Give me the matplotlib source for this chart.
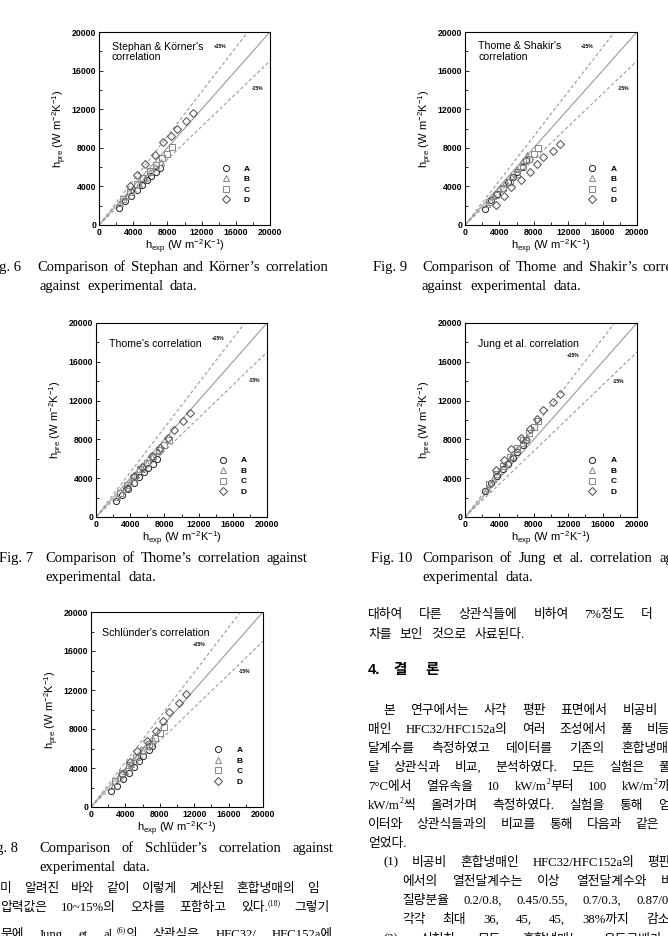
import re
import matplotlib
matplotlib.use('Agg')
import matplotlib.pyplot as plt
from matplotlib.ticker import MultipleLocator

W, H = 668, 936
plt.rcParams['font.family'] = 'Liberation Sans'
plt.rcParams['mathtext.default'] = 'regular'

#%% data
# experimental h (W m-2 K-1), mixtures A-D
exp_A = [2300, 3000, 3700, 4400, 5000, 5600, 6100, 6700, 7100]
exp_B = [2500, 3300, 4000, 4700, 5400, 6000, 6600, 7200]
exp_C = [2800, 3600, 4400, 5200, 6000, 6700, 7400, 8000, 8500]
exp_D = [3600, 4500, 5400, 6500, 7500, 8400, 9100, 10200, 11000]

# Fig. 6  Stephan & Korner
sk_A = [1800, 2500, 3000, 3600, 4100, 4700, 5100, 5500, 5900]
sk_B = [2300, 3000, 3700, 4300, 4900, 5500, 6000, 6500]
sk_C = [2700, 3400, 4200, 4900, 5600, 6200, 6900, 7400, 8100]
sk_D = [4000, 5200, 6300, 7300, 8600, 9200, 10000, 10800, 11600]

# Fig. 7  Thome
th_A = [1600, 2300, 2900, 3500, 4100, 4600, 5100, 5500, 6000]
th_B = [2100, 2900, 3600, 4300, 5000, 5600, 6200, 6800]
th_C = [2500, 3300, 4100, 4900, 5600, 6300, 6900, 7400, 7900]
th_D = [3000, 4200, 5200, 6300, 7100, 8100, 9000, 9900, 10700]

# Fig. 8  Schlunder
sl_A = [1600, 2200, 2900, 3500, 4100, 4700, 5200, 5800, 6300]
sl_B = [2200, 3000, 3700, 4400, 5100, 5700, 6300, 6900]
sl_C = [2700, 3500, 4300, 5100, 5800, 6500, 7100, 7600, 8200]
sl_D = [3400, 4600, 5700, 6800, 7800, 8800, 9700, 10700, 11600]

# Fig. 9  Thome & Shakir
ts_A = [1700, 2600, 3200, 3800, 4500, 5000, 5500, 6000, 6700]
ts_B = [2200, 3000, 3700, 4400, 5100, 5800, 6500, 7300]
ts_C = [2400, 3100, 3800, 4500, 5300, 6100, 6800, 7400, 8000]
ts_D = [2100, 3000, 3900, 4700, 5500, 6300, 7000, 7700, 8400]

# Fig. 10  Jung et al.
jg_A = [2700, 3500, 4200, 4900, 5500, 6100, 6700, 7400, 7900]
jg_B = [3000, 3900, 4700, 5500, 6300, 7000, 7600, 8200]
jg_C = [3400, 4400, 5300, 6200, 7100, 7900, 8700, 9300, 9900]
jg_D = [4800, 5900, 7000, 8100, 9100, 10100, 11000, 11900, 12700]

labels = ['A', 'B', 'C', 'D']
ticks = [0, 4000, 8000, 12000, 16000, 20000]
band = 0.15

#%% page layout
fig = plt.figure(figsize=(W / 100, H / 100), dpi=100)
R = fig.canvas.get_renderer()

panels = [
    # title, pre data, axes box (l, t, r, b) px, title xy, +15% xy, -15% xy
    ("Stephan & Körner's\ncorrelation", (sk_A, sk_B, sk_C, sk_D),
     (99, 32, 270, 225), (1480, 19000), (14200, 18500), (18500, 14150)),
    ("Thome & Shakir's\ncorrelation", (ts_A, ts_B, ts_C, ts_D),
     (465, 32, 637, 225), (1550, 19050), (14150, 18500), (18400, 14150)),
    ("Thome's correlation", (th_A, th_B, th_C, th_D),
     (96, 323, 267, 517), (1500, 18350), (14300, 18400), (18600, 14100)),
    ("Jung et al. correlation", (jg_A, jg_B, jg_C, jg_D),
     (465, 323, 637, 517), (1500, 18350), (12600, 16700), (17800, 13950)),
    ("Schlünder's correlation", (sl_A, sl_B, sl_C, sl_D),
     (91, 612, 263, 807), (1250, 18350), (12550, 16700), (17900, 13900)),
]

markers = ['o', '^', 's', 'D']
mcolors = ['#2e2e2e', '#8a8a8a', '#8a8a8a', '#555555']
msizes = [4.4, 4.4, 4.4, 4.1]
exps = [exp_A, exp_B, exp_C, exp_D]

for title, pres, box, txy, pxy, mxy in panels:
    l, t, r, b = box
    ax = fig.add_axes([l / W, 1 - b / H, (r - l) / W, (b - t) / H])
    ax.set_xlim(0, 20000)
    ax.set_ylim(0, 20000)
    xx = [0, 20000]
    ax.plot(xx, xx, color='#9a9a9a', lw=0.8)
    ax.plot(xx, [v * (1 + band) for v in xx], color='#9a9a9a', lw=0.8, dashes=(3, 2.2))
    ax.plot(xx, [v * (1 - band) for v in xx], color='#9a9a9a', lw=0.8, dashes=(3, 2.2))
    hs = []
    for ex, pr, m, c, s, lab in zip(exps, pres, markers, mcolors, msizes, labels):
        hs.append(ax.plot(ex, pr, ls='none', marker=m, ms=s, mfc='none', mec=c,
                          mew=0.75, label=lab)[0])
    leg = ax.legend(handles=hs, loc='center', bbox_to_anchor=(0.80, 0.21),
                    frameon=False, fontsize=6, handlelength=1.0, handletextpad=1.7,
                    labelspacing=0.32, borderpad=0)
    for tx in leg.get_texts():
        tx.set_fontweight('bold')
    ax.text(txy[0], txy[1], title, va='top', ha='left', fontsize=7.6, linespacing=1.05)
    ax.text(pxy[0], pxy[1], '+15%', fontsize=3.6, fontweight='bold', ha='center', va='center')
    ax.text(mxy[0], mxy[1], '-15%', fontsize=3.6, fontweight='bold', ha='center', va='center')
    ax.set_xticks(ticks)
    ax.set_yticks(ticks)
    ax.xaxis.set_minor_locator(MultipleLocator(2000))
    ax.yaxis.set_minor_locator(MultipleLocator(2000))
    ax.tick_params(which='both', direction='in', width=0.6, labelsize=6.3, pad=2)
    ax.tick_params(which='major', length=3)
    ax.tick_params(which='minor', length=2)
    for lb in ax.get_xticklabels() + ax.get_yticklabels():
        lb.set_fontweight('bold')
    for sp in ax.spines.values():
        sp.set_linewidth(0.8)
    ax.set_xlabel(r'h$_{exp}$ (W m$^{-2}$K$^{-1}$)', fontsize=8, labelpad=1)
    ax.set_ylabel(r'h$_{pre}$ (W m$^{-2}$K$^{-1}$)', fontsize=8, labelpad=2)

#%% page text (captions and Korean body)
body_font = ['Liberation Serif', 'Noto Sans CJK KR']


def parse(word):
    parts = re.split(r'\^\{(.*?)\}', word)
    return [(p, i % 2 == 1) for i, p in enumerate(parts) if p]


def put_line(text, x0, y, size, x1=None, gap=None, weight='normal'):
    words = [parse(w) for w in text.split()]
    em = size * 100 / 72
    objs, widths = [], []
    for w in words:
        parts, tot = [], 0
        for txt, sup in w:
            fs = size * 0.62 if sup else size
            tt = fig.text(0, 0, txt, fontsize=fs, family=body_font, va='baseline',
                          ha='left', fontweight=weight)
            wd = tt.get_window_extent(renderer=R).width
            parts.append((tt, tot, 0.45 * em if sup else 0))
            tot += wd
        objs.append(parts)
        widths.append(tot)
    if gap is None:
        gap = 0.3 * em
    if x1 is not None and len(words) > 1:
        gap = (x1 - x0 - sum(widths)) / (len(words) - 1)
    x = x0
    base = y + 0.36 * em
    for parts, wd in zip(objs, widths):
        for tt, off, dy in parts:
            tt.set_position(((x + off) / W, 1 - (base - dy) / H))
        x += wd + gap


cap = 10.5
captions = [
    ('Fig. 6', 21, 266, 'Comparison of Stephan and Körner’s correlation', 37, 328,
     'against  experimental  data.', 39, 285),
    ('Fig. 9', 407, 266, 'Comparison of Thome and Shakir’s correlation', 422, 705,
     'against  experimental  data.', 422, 285),
    ('Fig. 7', 33, 557, 'Comparison of Thome’s correlation against', 45, 307,
     'experimental  data.', 45, 576),
    ('Fig. 10', 412, 557, 'Comparison of Jung et al. correlation against', 422, 700,
     'experimental  data.', 422, 576),
    ('Fig. 8', 18, 847, 'Comparison of Schlüder’s correlation against', 39, 333,
     'experimental  data.', 39, 866),
]
for fid, fx, fy, l1, x0, x1, l2, x2, y2 in captions:
    fig.text(fx / W, 1 - (fy + 0.36 * cap * 100 / 72) / H, fid, fontsize=cap,
             family=body_font, ha='right', va='baseline')
    put_line(l1, x0, fy, cap, x1=x1)
    put_line(l2, x2, y2, cap, gap=7)

ks = 9.2
left_lines = [
    ('미 알려진 바와 같이 이렇게 계산된 혼합냉매의 임', 887, 319),
    ('압력값은 10~15%의 오차를 포함하고 있다.^{(18)} 그렇기', 906, 330),
    ('문에 Jung et al.^{(6)}의 상관식은 HFC32/ HFC152a에', 933, 333),
]
for txt, y, x1 in left_lines:
    put_line(txt, 0, y, ks, x1=x1, gap=8)

right_lines = [
    ('대하여 다른 상관식들에 비하여 7%정도 더 큰 오', 368, 613, True),
    ('차를 보인 것으로 사료된다.', 368, 633, False),
    ('본 연구에서는 사각 평판 표면에서 비공비 혼합냉', 383, 709, True),
    ('매인 HFC32/HFC152a의 여러 조성에서 풀 비등 열전', 368, 728, True),
    ('달계수를 측정하였고 데이터를 기존의 혼합냉매 열전', 368, 747, True),
    ('달 상관식과 비교, 분석하였다. 모든 실험은 풀 온도', 368, 766, True),
    ('7°C에서 열유속을 10 kW/m^{2}부터 100 kW/m^{2}까지 10', 368, 785, True),
    ('kW/m^{2}씩 올려가며 측정하였다. 실험을 통해 얻은 데', 368, 804, True),
    ('이터와 상관식들과의 비교를 통해 다음과 같은 결론을', 368, 823, True),
    ('얻었다.', 368, 842, False),
    ('(1) 비공비 혼합냉매인 HFC32/HFC152a의 평판 표면', 383, 861, True),
    ('에서의 열전달계수는 이상 열전달계수와 비교하여', 402, 880, True),
    ('질량분율 0.2/0.8, 0.45/0.55, 0.7/0.3, 0.87/0.13에서', 402, 899, True),
    ('각각 최대 36, 45, 45, 38%까지 감소하였다.', 402, 918, True),
    ('(2) 실험한 모든 혼합냉매는 온도구배가 작은', 383, 938, True),
]
for txt, x0, y, just in right_lines:
    put_line(txt, x0, y, ks, x1=708 if just else None, gap=8)

# section heading
for txt, x in [('4.', 368), ('결', 393), ('론', 425)]:
    fig.text(x / W, 1 - (669 + 0.36 * 10.5 * 100 / 72) / H, txt, fontsize=10.5,
             family=['Liberation Sans', 'Noto Sans CJK KR'], fontweight='bold',
             va='baseline')

fig.savefig('out.png', dpi=100)
